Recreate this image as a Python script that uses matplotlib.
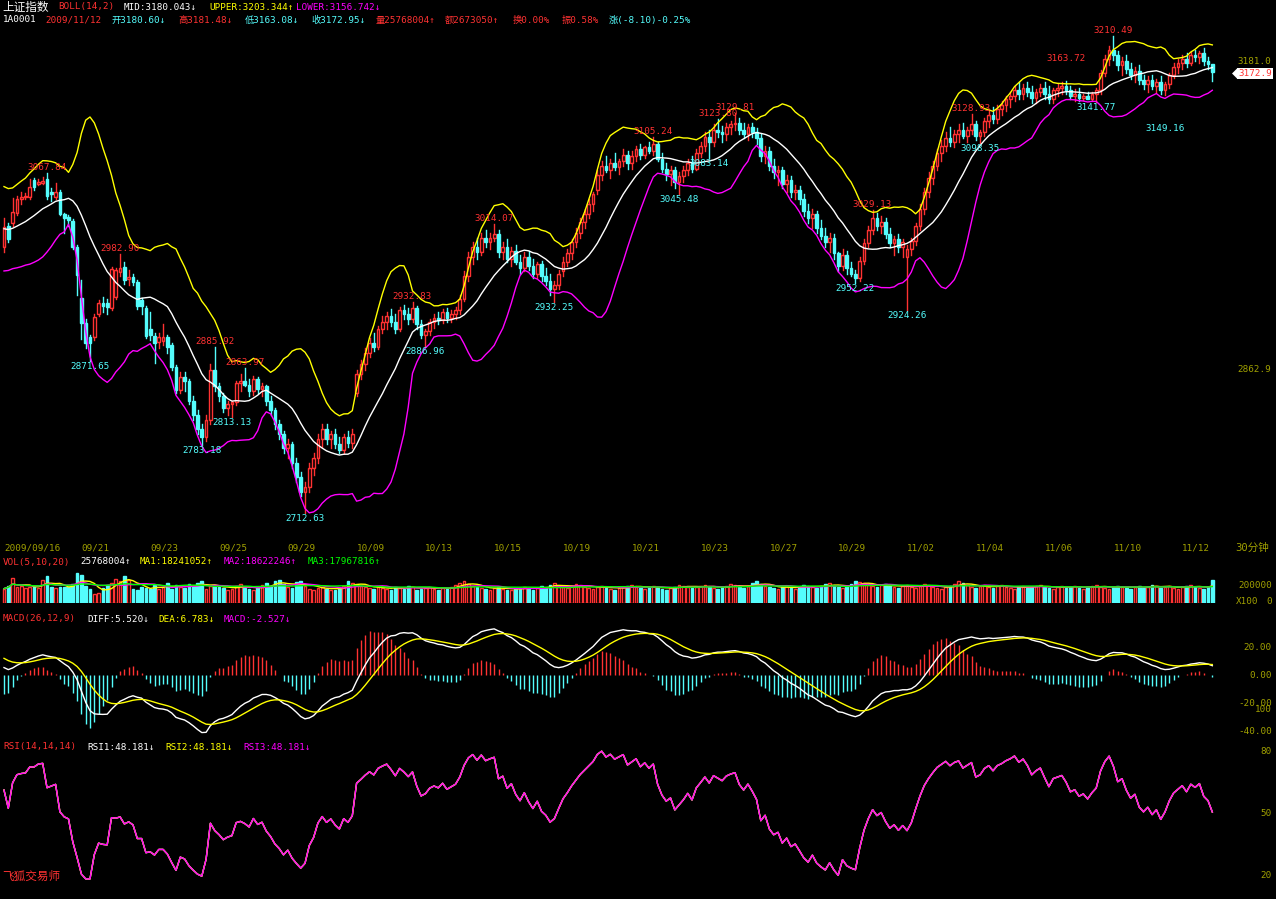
import numpy as np
import pandas as pd
import matplotlib
matplotlib.use('Agg')
import matplotlib.pyplot as plt
from matplotlib.patches import Rectangle, Polygon
import matplotlib.transforms as mtrans

W, H = 1276, 899
RED = '#ff3232'
CYAN = '#54fcfc'
YEL = '#ffff00'
MAG = '#ff00ff'
GRN = '#00ff00'
OLIVE = '#a0a000'
WHITE = '#ffffff'

plt.rcParams['font.family'] = ['DejaVu Sans Mono', 'Noto Sans CJK SC']
FS = 6.7

# ---------------- data: 282 bars of 30 minutes ----------------
open_p = [2990, 3012, 3015, 3026, 3040, 3042, 3042, 3060, 3056, 3057,
          3061, 3048, 3042, 3047, 3025, 3021, 3017, 2990, 2937, 2911,
          2896, 2896, 2920, 2932, 2932, 2926, 2938, 2964, 2969, 2957,
          2959, 2954, 2935, 2927, 2905, 2897, 2891, 2892, 2896, 2888,
          2865, 2841,
          2855, 2850, 2830, 2815, 2800, 2792, 2810, 2862,
          2845, 2835, 2822, 2826, 2828, 2848, 2850, 2846,
          2840, 2852, 2842, 2845, 2830, 2820, 2805, 2795,
          2780, 2785, 2765, 2750, 2735, 2740, 2760, 2770,
          2790, 2800, 2790, 2795, 2785, 2778, 2792, 2786,
          2838, 2858, 2868, 2880, 2890, 2886, 2905, 2912,
          2918, 2912, 2905, 2924, 2920, 2915, 2926, 2910,
          2898, 2902, 2912, 2916, 2914, 2922, 2916, 2920,
          2924, 2936, 2960, 2980, 2990, 2985, 3000, 2995,
          3000, 3004, 2985, 2990, 2978, 2986, 2975, 2968,
          2980, 2970, 2962, 2972, 2960, 2955, 2946, 2950,
          2965, 2975, 2984, 2995, 3005, 3016, 3025, 3035,
          3050, 3065, 3075, 3070, 3078, 3074, 3080, 3086,
          3078, 3085, 3092, 3086, 3094, 3090, 3098, 3082,
          3072, 3066, 3070, 3058, 3064, 3070, 3078, 3072,
          3088, 3096, 3105, 3100, 3112, 3110, 3108, 3115,
          3118, 3120, 3112, 3108, 3115, 3110, 3104, 3085,
          3090, 3075, 3068, 3070, 3056, 3060, 3048, 3050,
          3040, 3028, 3020, 3025, 3010, 3002, 2995, 3000,
          2984, 2970, 2982, 2968, 2962, 2958, 2976, 2994,
          3008, 3020, 3012, 3016, 3004, 2994, 2998, 2990,
          2980, 2988, 2996, 3012, 3030, 3048, 3062, 3075,
          3088, 3096, 3104, 3100, 3108, 3112, 3106, 3112,
          3118, 3106, 3110, 3122, 3128, 3124, 3134, 3138,
          3144, 3148, 3154, 3150, 3156, 3152, 3146, 3152,
          3156, 3150, 3144, 3154, 3156, 3158, 3154, 3148,
          3150, 3146, 3148, 3145, 3150, 3154, 3172, 3186,
          3196, 3190, 3180, 3184, 3176, 3170, 3174, 3164,
          3160, 3164, 3158, 3162, 3154, 3160, 3170, 3178,
          3182, 3186, 3182, 3190, 3188, 3192, 3184, 3180.60]
high_p = [3020, 3015, 3041, 3043, 3048, 3046, 3061, 3062, 3061, 3063,
          3067.84, 3052, 3057, 3050, 3026, 3023, 3019, 2992, 2956, 2915,
          2898, 2920, 2935, 2938, 2936, 2969, 2968, 2982.90, 2975, 2966,
          2962, 2956, 2937, 2929, 2922, 2900, 2900, 2910, 2898, 2890,
          2867, 2860,
          2860, 2852, 2835, 2820, 2805, 2815, 2868, 2885.92,
          2848, 2838, 2830, 2830, 2850, 2858, 2863.97, 2852,
          2856, 2855, 2848, 2846, 2835, 2822, 2810, 2798,
          2790, 2787, 2770, 2755, 2745, 2765, 2775, 2795,
          2805, 2805, 2798, 2800, 2792, 2795, 2798, 2800,
          2862, 2872, 2885, 2895, 2900, 2908, 2918, 2922,
          2925, 2920, 2928, 2930, 2926, 2932.83, 2929, 2914,
          2905, 2915, 2920, 2922, 2925, 2926, 2924, 2928,
          2940, 2965, 2985, 2995, 3000, 3005, 3008, 3005,
          3014.07, 3008, 2995, 2998, 2990, 2992, 2982, 2985,
          2986, 2978, 2975, 2976, 2968, 2962, 2955, 2966,
          2980, 2988, 2998, 3010, 3020, 3030, 3040, 3048,
          3070, 3080, 3085, 3082, 3088, 3082, 3092, 3090,
          3090, 3095, 3098, 3096, 3100, 3105.24, 3100, 3088,
          3078, 3075, 3074, 3068, 3075, 3082, 3085, 3092,
          3100, 3110, 3112, 3118, 3123.80, 3116, 3120, 3122,
          3129.81, 3125, 3120, 3118, 3120, 3114, 3108, 3095,
          3094, 3082, 3075, 3074, 3065, 3064, 3055, 3054,
          3045, 3035, 3030, 3028, 3018, 3010, 3005, 3004,
          2985, 2988, 2986, 2975, 2966, 2980, 2998, 3012,
          3029.13, 3026, 3022, 3020, 3010, 3002, 3004, 2998,
          2992, 3000, 3015, 3035, 3052, 3068, 3080, 3092,
          3102, 3110, 3115, 3112, 3118, 3120, 3115, 3128.93,
          3122, 3112, 3125, 3132, 3136, 3138, 3142, 3148,
          3152, 3158, 3162, 3160, 3162, 3158, 3155, 3160,
          3162, 3158, 3156, 3160, 3162, 3163.72, 3158, 3155,
          3156, 3150, 3152, 3152, 3156, 3175, 3190, 3200,
          3210.49, 3195, 3188, 3190, 3182, 3178, 3180, 3170,
          3168, 3170, 3165, 3168, 3162, 3172, 3182, 3186,
          3190, 3192, 3194, 3196, 3195, 3198, 3188, 3181.48]
low_p = [2985, 2995, 3012, 3024, 3035, 3040, 3040, 3050, 3055, 3056,
         3040, 3038, 3040, 3024, 3005, 3012, 2988, 2940, 2894, 2885,
         2871.65, 2893, 2918, 2922, 2920, 2924, 2936, 2960, 2952, 2950,
         2950, 2925, 2920, 2895, 2893, 2869, 2885, 2888, 2880, 2862,
         2838, 2838,
         2840, 2826, 2810, 2795, 2783.18, 2788, 2806, 2840,
         2830, 2818, 2815, 2813.13, 2825, 2840, 2845, 2835,
         2836, 2838, 2835, 2825, 2815, 2800, 2790, 2775,
         2770, 2760, 2745, 2730, 2712.63, 2735, 2752, 2765,
         2782, 2785, 2780, 2780, 2775, 2775, 2782, 2780,
         2835, 2852, 2862, 2875, 2882, 2884, 2900, 2905,
         2908, 2900, 2903, 2915, 2910, 2912, 2905, 2895,
         2886.96, 2898, 2906, 2910, 2911, 2912, 2912, 2915,
         2920, 2934, 2955, 2972, 2978, 2982, 2990, 2988,
         2996, 2980, 2978, 2975, 2970, 2972, 2962, 2965,
         2966, 2958, 2958, 2955, 2950, 2940, 2932.25, 2946,
         2960, 2970, 2978, 2990, 3000, 3010, 3020, 3028,
         3045, 3060, 3068, 3062, 3070, 3066, 3075, 3072,
         3072, 3080, 3082, 3083, 3088, 3086, 3080, 3068,
         3060, 3055, 3052, 3045.48, 3058, 3065, 3068, 3070,
         3084, 3090, 3083.14, 3096, 3105, 3100, 3102, 3108,
         3112, 3108, 3104, 3102, 3105, 3098, 3080, 3078,
         3070, 3062, 3055, 3052, 3048, 3042, 3040, 3035,
         3022, 3015, 3010, 3005, 2998, 2990, 2985, 2978,
         2965, 2966, 2962, 2960, 2952.22, 2955, 2972, 2990,
         3004, 3008, 3005, 3000, 2990, 2982, 2985, 2980,
         2924.26, 2982, 2992, 3008, 3025, 3042, 3056, 3070,
         3080, 3090, 3095, 3094, 3100, 3104, 3100, 3108,
         3102, 3098.35, 3106, 3115, 3120, 3120, 3128, 3132,
         3136, 3142, 3145, 3144, 3148, 3140, 3140, 3148,
         3145, 3140, 3140, 3148, 3150, 3150, 3145, 3142,
         3142, 3143, 3144, 3143, 3141.77, 3150, 3168, 3180,
         3185, 3175, 3170, 3172, 3165, 3162, 3160, 3155,
         3152, 3155, 3152, 3150, 3149.16, 3156, 3166, 3172,
         3176, 3178, 3180, 3184, 3182, 3180, 3176, 3163.08]
close_p = [3011, 2998, 3027, 3040, 3042, 3043, 3053, 3053, 3058, 3059,
           3043, 3045, 3047, 3025, 3020, 3018, 2990, 2961, 2911, 2890,
           2890, 2917, 2932, 2929, 2928, 2967, 2966, 2968, 2956, 2959,
           2954, 2929, 2929, 2897, 2898, 2890, 2896, 2896, 2886, 2865,
           2841, 2855,
           2850, 2830, 2815, 2800, 2792, 2810, 2862, 2845,
           2835, 2822, 2826, 2828, 2848, 2850, 2846, 2840,
           2852, 2842, 2845, 2830, 2820, 2805, 2795, 2780,
           2785, 2765, 2750, 2735, 2740, 2760, 2770, 2790,
           2800, 2790, 2795, 2785, 2778, 2792, 2786, 2795,
           2858, 2868, 2880, 2890, 2886, 2905, 2912, 2918,
           2912, 2905, 2924, 2920, 2915, 2926, 2910, 2898,
           2902, 2912, 2916, 2914, 2922, 2916, 2920, 2924,
           2936, 2960, 2980, 2990, 2985, 3000, 2995, 3000,
           3004, 2985, 2990, 2978, 2986, 2975, 2968, 2980,
           2970, 2962, 2972, 2960, 2955, 2946, 2950, 2962,
           2975, 2984, 2995, 3005, 3016, 3025, 3035, 3045,
           3065, 3075, 3070, 3078, 3074, 3080, 3086, 3078,
           3085, 3092, 3086, 3094, 3090, 3098, 3082, 3072,
           3066, 3070, 3058, 3064, 3070, 3078, 3072, 3088,
           3096, 3105, 3100, 3112, 3110, 3108, 3115, 3118,
           3120, 3112, 3108, 3115, 3110, 3104, 3085, 3090,
           3075, 3068, 3070, 3056, 3060, 3048, 3050, 3040,
           3028, 3020, 3025, 3010, 3002, 2995, 3000, 2984,
           2970, 2982, 2968, 2962, 2958, 2976, 2994, 3008,
           3020, 3012, 3016, 3004, 2994, 2998, 2990, 2995,
           2988, 2996, 3012, 3030, 3048, 3062, 3075, 3088,
           3096, 3104, 3100, 3108, 3112, 3106, 3112, 3118,
           3106, 3110, 3122, 3128, 3124, 3134, 3138, 3144,
           3148, 3154, 3150, 3156, 3152, 3146, 3152, 3156,
           3150, 3144, 3154, 3156, 3158, 3154, 3148, 3150,
           3146, 3148, 3145, 3150, 3154, 3172, 3186, 3196,
           3190, 3180, 3184, 3176, 3170, 3174, 3164, 3160,
           3164, 3158, 3162, 3154, 3160, 3170, 3178, 3182,
           3186, 3182, 3190, 3188, 3192, 3184, 3181.05, 3172.95]

volume_m = [16, 19, 28, 18, 19, 17, 18, 19, 17, 26,
            30, 18, 17, 18, 18, 18, 21, 33, 31, 19,
            16, 10, 11, 17, 20, 22, 27, 25, 30, 26,
            16, 14, 18, 17, 16, 20, 16, 18, 22, 16,
            20, 18, 17, 21, 19, 22, 24, 16, 19, 20,
            18, 17, 15, 16, 19, 21, 17, 16, 14, 18,
            20, 22, 19, 24, 26, 21, 18, 17, 23, 25,
            19, 16, 15, 17, 18, 16, 14, 15, 17, 19,
            25, 22, 20, 19, 18, 17, 16, 18, 17, 16,
            15, 18, 17, 16, 19, 18, 15, 16, 17, 18,
            16, 15, 17, 16, 18, 20, 22, 24, 21, 19,
            18, 17, 16, 15, 17, 18, 16, 15, 14, 16,
            17, 18, 16, 15, 17, 19, 18, 20, 22, 19,
            18, 17, 19, 21, 20, 18, 17, 16, 18, 19,
            17, 16, 15, 17, 18, 19, 20, 18, 17, 16,
            18, 19, 17, 16, 15, 17, 18, 20, 19, 18,
            17, 18, 19, 20, 18, 17, 16, 18, 19, 21,
            20, 18, 17, 19, 22, 24, 21, 19, 18, 17,
            16, 18, 19, 17, 16, 18, 20, 19, 18, 17,
            19, 21, 22, 20, 18, 17, 19, 21, 24, 23,
            22, 20, 19, 18, 20, 21, 19, 18, 17, 19,
            20, 18, 17, 19, 21, 20, 18, 17, 16, 18,
            19, 21, 24, 22, 20, 18, 17, 19, 20, 18,
            17, 19, 20, 18, 17, 16, 18, 19, 17, 18,
            19, 20, 18, 17, 16, 18, 19, 17, 18, 19,
            17, 16, 18, 19, 20, 18, 17, 16, 18, 19,
            18, 17, 16, 18, 19, 17, 18, 20, 19, 17,
            18, 19, 17, 16, 18, 19, 20, 18, 17, 16,
            18, 25.77]

# bars whose high / low is printed on the chart
hi_bars = [10, 27, 49, 56, 95, 114, 151, 166, 170, 202, 225, 247, 258]
lo_bars = [20, 46, 53, 70, 98, 128, 157, 164, 198, 210, 227, 254, 270]

# indicator values at the first bar
boll_mid0, boll_sd0 = 3009.0, 22.0
diff0, dea0 = 5.7, 11.9
rsi0, rsi_absavg0 = 61.0, 6.0

date_labels = ['2009/09/16', '09/21', '09/23', '09/25', '09/29', '10/09', '10/13', '10/15', '10/19',
               '10/21', '10/23', '10/27', '10/29', '11/02', '11/04', '11/06', '11/10', '11/12']
date_bars = [0, 18, 34, 50, 66, 82, 98, 114, 130, 146, 162, 178, 194, 210, 226, 242, 258, 274]

opens = np.array(open_p, dtype=float)
highs = np.array(high_p, dtype=float)
lows = np.array(low_p, dtype=float)
close = np.array(close_p, dtype=float)
vol = np.array(volume_m, dtype=float)
N = len(close)

# ---------------- indicators ----------------
mid = np.zeros(N)
sd = np.zeros(N)
for i in range(N):
    k = min(i + 1, 14)
    m = 14 - k
    win = close[i - k + 1:i + 1]
    mu = (win.sum() + m * boll_mid0) / 14
    ex2 = ((win ** 2).sum() + m * (boll_sd0 ** 2 + boll_mid0 ** 2)) / 14
    mid[i] = mu
    sd[i] = np.sqrt(max(ex2 - mu ** 2, 0) * 14 / 13)
upper = mid + 2 * sd
lower = mid - 2 * sd

ema12 = np.zeros(N)
ema26 = np.zeros(N)
dea = np.zeros(N)
e12, e26, d = close[0], close[0] - diff0, dea0
for i in range(N):
    e12 = (2 * close[i] + 11 * e12) / 13
    e26 = (2 * close[i] + 25 * e26) / 27
    ema12[i], ema26[i] = e12, e26
    if i > 0:
        d = (2 * (e12 - e26) + 8 * d) / 10
    dea[i] = d
diff = ema12 - ema26
macd = 2 * (diff - dea)

rsi = np.zeros(N)
au, aa = rsi0 / 100 * rsi_absavg0, rsi_absavg0
rsi[0] = rsi0
for i in range(1, N):
    ch = close[i] - close[i - 1]
    au = (max(ch, 0) + 13 * au) / 14
    aa = (abs(ch) + 13 * aa) / 14
    rsi[i] = au / aa * 100

vs = pd.Series(vol)
vma5 = vs.rolling(5, min_periods=1).mean()
vma10 = vs.rolling(10, min_periods=1).mean()
vma20 = vs.rolling(20, min_periods=1).mean()

# ---------------- figure ----------------
fig = plt.figure(figsize=(W / 100, H / 100), dpi=100, facecolor='black')


def box(x0, y0, x1, y1):
    return [x0 / W, 1 - y1 / H, (x1 - x0) / W, (y1 - y0) / H]


def ftext(x, y, s, color, ha='left', fs=FS):
    fig.text(x / W, 1 - y / H, s, color=color, ha=ha, va='center', fontsize=fs)


XL = (-0.93, 283.95)
ax = fig.add_axes(box(0, 30, 1225, 535))
axv = fig.add_axes(box(0, 570, 1225, 603))
axm = fig.add_axes(box(0, 625, 1225, 735))
axr = fig.add_axes(box(0, 740, 1225, 899))
for a in (ax, axv, axm, axr):
    a.set_facecolor('black')
    a.set_xlim(*XL)
    a.axis('off')
ax.set_ylim(2689.7, 3216.5)
axv.set_ylim(0, 36.7)
axm.set_ylim(-42.86, 35.71)
axr.set_ylim(8.72, 85.04)

x = np.arange(N)
w = 0.62
# candles: red hollow up, cyan filled down
for i in range(N):
    up = close[i] >= opens[i]
    col = RED if up else CYAN
    b0, b1 = min(opens[i], close[i]), max(opens[i], close[i])
    ax.plot([i, i], [lows[i], b0], color=col, lw=1)
    ax.plot([i, i], [b1, highs[i]], color=col, lw=1)
    ax.add_patch(Rectangle((i - w / 2, b0), w, max(b1 - b0, 0.5),
                           facecolor='black' if up else col, edgecolor=col, lw=1))
ax.plot(x, mid, color=WHITE, lw=1)
ax.plot(x, upper, color=YEL, lw=1)
ax.plot(x, lower, color=MAG, lw=1)

# the chart moves two labels off their bar to keep them clear
label_shift = {247: 17, 270: -28}
for i in hi_bars:
    ax.annotate(f'{highs[i]:.2f}', (i, highs[i]), xytext=(0, 1 + label_shift.get(i, 0)),
                textcoords='offset pixels', ha='center', va='bottom', color=RED, fontsize=FS)
for i in lo_bars:
    ax.annotate(f'{lows[i]:.2f}', (i, lows[i]), xytext=(0, -1 + label_shift.get(i, 0)),
                textcoords='offset pixels', ha='center', va='top', color=CYAN, fontsize=FS)

# volume
for i in range(N):
    up = close[i] >= opens[i]
    col = RED if up else CYAN
    axv.add_patch(Rectangle((i - w / 2, 0), w, vol[i],
                            facecolor='black' if up else col, edgecolor=col, lw=1))
axv.plot(x, vma5, color=YEL, lw=1)
axv.plot(x, vma10, color=MAG, lw=1)
axv.plot(x, vma20, color=GRN, lw=1)

# macd
axm.vlines(x[macd >= 0], 0, macd[macd >= 0], color=RED, lw=1)
axm.vlines(x[macd < 0], 0, macd[macd < 0], color=CYAN, lw=1)
axm.plot(x, diff, color=WHITE, lw=1)
axm.plot(x, dea, color=YEL, lw=1)

# rsi (three identical lines, magenta on top)
axr.plot(x, rsi, color=WHITE, lw=1)
axr.plot(x, rsi, color=YEL, lw=1)
axr.plot(x, rsi, color=MAG, lw=1)

# date axis
tr = mtrans.blended_transform_factory(ax.transData, fig.transFigure)
for b, s in zip(date_bars, date_labels):
    ax.text(b, 1 - 548 / H, s, transform=tr, color=OLIVE, fontsize=FS, ha='left', va='center')
ftext(1235, 548, '30分钟', OLIVE, fs=7.6)

# headers
head1 = [(58, 'BOLL(14,2)', RED), (124, 'MID:3180.043↓', WHITE),
         (209, 'UPPER:3203.344↑', YEL), (296, 'LOWER:3156.742↓', MAG)]
head2 = [(3, '1A0001', WHITE), (45, '2009/11/12', RED), (111, '开3180.60↓', CYAN),
         (178, '高3181.48↓', RED), (245, '低3163.08↓', CYAN), (311, '收3172.95↓', CYAN),
         (376, '量25768004↑', RED), (445, '额2673050↑', RED), (513, '换0.00%', RED),
         (562, '振0.58%', RED), (609, '涨(-8.10)-0.25%', CYAN)]
headv = [(3, 'VOL(5,10,20)', RED), (80, '25768004↑', WHITE), (140, 'MA1:18241052↑', YEL),
         (224, 'MA2:18622246↑', MAG), (308, 'MA3:17967816↑', GRN)]
headm = [(3, 'MACD(26,12,9)', RED), (87, 'DIFF:5.520↓', WHITE), (158, 'DEA:6.783↓', YEL),
         (224, 'MACD:-2.527↓', MAG)]
headr = [(3, 'RSI(14,14,14)', RED), (87, 'RSI1:48.181↓', WHITE), (165, 'RSI2:48.181↓', YEL),
         (243, 'RSI3:48.181↓', MAG)]
for yy, segs in ((7, head1), (20, head2), (562, headv), (619, headm), (747, headr)):
    for xx, s, c in segs:
        ftext(xx, yy, s, c)
ftext(2, 7, '上证指数', WHITE, fs=8.4)

# right scale
ftext(1237, 62, '3181.0', OLIVE)
ftext(1237, 369, '2862.9', OLIVE)
fig.patches.append(Rectangle((1237 / W, 1 - 79 / H), 36 / W, 11 / H, transform=fig.transFigure,
                             facecolor='white', edgecolor='none'))
fig.patches.append(Polygon([[1232 / W, 1 - 73.5 / H], [1237 / W, 1 - 68.5 / H], [1237 / W, 1 - 78.5 / H]],
                           closed=True, transform=fig.transFigure, facecolor='white', edgecolor='none'))
ftext(1238, 73.5, '3172.9', RED)
ftext(1272, 585, '200000', OLIVE, ha='right')
ftext(1236, 602, 'X100', OLIVE)
ftext(1272, 601, '0', OLIVE, ha='right')
for yy, s in ((647, '20.00'), (675, '0.00'), (703, '-20.00'), (731, '-40.00'), (709, '100'),
              (751, '80'), (813, '50'), (876, '20')):
    ftext(1272, yy, s, OLIVE, ha='right')
ftext(2, 876, '飞狐交易师', RED, fs=8.4)

fig.savefig('out.png', dpi=100, facecolor='black')
